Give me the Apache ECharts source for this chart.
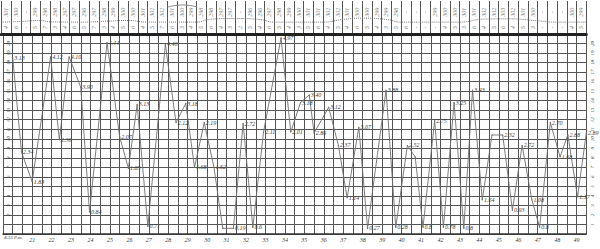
<!DOCTYPE html>
<html><head><meta charset="utf-8">
<script src="https://cdn.jsdelivr.net/npm/echarts@6/dist/echarts.min.js"></script>
<style>html,body{margin:0;padding:0;background:#fff}#c{width:600px;height:249px}</style>
</head><body><div id="c"></div>
<script>
// bottom tick labels at odd columns 3,5,...,59
const dayLabels = ['21','22','23','24','25','26','27','28','29','30','31','32','33','34','35','36','37','38','39','40','41','42','43','44','45','46','47','48','49'];
// left / right height labels (one per grid row)
const heightLabels = ['0','1','2','3','4','5','6','7','8','9','10','11','12','13','14','15','16','17','18','19','20','21'];
// tide curve: column position, height, and written value at each turning point
const tideX = [1.0, 1.9, 3.0, 4.9, 5.8, 6.8, 8.0, 8.9, 10.7, 12.0, 12.9, 13.8, 14.9, 16.7, 17.8, 18.8, 19.7, 20.7, 21.7, 22.6, 23.7, 24.7, 25.7, 26.8, 28.6, 29.6, 30.6, 31.5, 32.0, 33.5, 34.5, 35.4, 36.6, 37.5, 39.4, 40.4, 41.6, 42.4, 43.2, 44.4, 45.3, 46.4, 47.4, 48.3, 49.3, 50.3, 51.4, 52.4, 53.4, 54.4, 55.2, 56.3, 57.3, 58.1, 59.1, 60.0];
const tideY = [18.5, 8.6, 5.5, 18.6, 9.9, 18.6, 15.4, 2.3, 20.1, 10.2, 6.9, 13.6, 0.8, 19.9, 11.7, 13.7, 7.0, 11.7, 7.0, 0.6, 0.6, 11.6, 0.7, 10.7, 20.6, 10.7, 13.8, 14.6, 10.6, 13.3, 9.3, 3.8, 11.2, 0.6, 15.1, 0.7, 9.3, 8.1, 0.7, 11.9, 0.7, 13.8, 0.6, 15.1, 3.6, 10.4, 10.4, 2.5, 9.3, 3.6, 0.7, 11.7, 8.1, 10.4, 3.9, 10.6];
const tideLabels = ['3.13','2.34','1.83','4.12','2.36','4.10','3.90','0.84','4.44','2.07','1.85','3.13','0.71','4.46','2.12','3.18','1.68','2.19','1.62','','0.19','2.72','0.6','2.11','4.97','2.01','3.18','3.40','2.86','3.12','2.37','1.14','3.07','0.27','3.88','0.28','2.52','','0.8','2.75','0.78','3.25','0.8','3.43','1.64','','2.32','0.93','2.72','1.08','0.8','2.70','1.68','2.88','1.17','2.89'];
// upper band: two written rows per column and a dotted curve
const topRow1 = ['301','300','-','299','298','298','297','297','296','297','298','299','300','300','301','302','302','301','300','299','298','298','297','297','-','296','296','297','298','299','300','301','301','302','302','301','300','300','299','299','298','-','-','-','299','300','300','301','301','302','302','303','302','301','300','-','-','-','300','299'];
const topRow2 = ['4','6','-','5','7','3','4','6','5','7','3','4','5','6','4','5','7','6','3','4','5','6','4','3','2','5','4','6','5','4','3','5','6','4','5','4','6','5','4','3','5','6','-','-','-','4','5','3','6','4','5','6','4','5','3','-','-','-','4','5'];
const topCurveX = [0, 2, 4, 5, 8, 11, 13, 15, 20, 21.5, 24, 26.5, 28, 33, 35, 37, 39.5, 41, 47, 49.5, 52, 55, 57, 60];
const topCurveY = [3.6, 3.8, 4.1, 3.7, 3.6, 3.9, 4.1, 3.6, 3.6, 4.5, 4.7, 4.4, 3.6, 3.6, 4.4, 4.8, 4.4, 3.6, 3.6, 4.5, 4.6, 4.0, 3.6, 3.6];
const arcX = [17.1, 18.6, 20.1];
const arcY = [8.2, 8.8, 8.2];

const chart = echarts.init(document.getElementById('c'), null, {renderer: 'svg'});
const gridCol = '#555';
const ink = '#6e6e6e';
const txt = '#3a3a3a';
const fnt = 'Liberation Serif';
const option = {
  animation: false,
  backgroundColor: '#fff',
  textStyle: {fontFamily: fnt},
  grid: [
    {left: 1.3, right: 13.7, top: 34, bottom: 15},
    {left: 1.3, right: 13.7, top: 1, height: 33}
  ],
  xAxis: [
    {gridIndex: 0, type: 'value', min: 0, max: 60, interval: 1,
     axisLine: {show: true, lineStyle: {color: '#333', width: 1.5}},
     axisTick: {show: false},
     splitLine: {show: true, lineStyle: {color: gridCol, width: 1}},
     axisLabel: {fontSize: 6, color: txt, margin: 3, fontStyle: 'italic', fontFamily: fnt,
       formatter: v => (v % 2 === 1 && v >= 3 && v <= 59) ? dayLabels[(v - 3) / 2] : ''}},
    {gridIndex: 1, type: 'value', min: 0, max: 60, interval: 1, position: 'bottom',
     axisLine: {show: true, lineStyle: {color: '#222', width: 3}},
     axisTick: {show: false}, axisLabel: {show: false},
     splitLine: {show: true, lineStyle: {color: gridCol, width: 1}}}
  ],
  yAxis: [
    {gridIndex: 0, type: 'value', min: 0, max: 21, interval: 1,
     axisLine: {show: false}, axisTick: {show: false},
     splitLine: {show: true, lineStyle: {color: gridCol, width: 1}},
     axisLabel: {inside: true, rotate: 90, fontSize: 5, margin: 3, color: txt, fontStyle: 'italic',
       formatter: v => (v > 0 && v < 21) ? heightLabels[v] : ''}},
    {gridIndex: 0, type: 'value', position: 'right', min: 0, max: 21, interval: 1,
     axisLine: {show: false}, axisTick: {show: false}, splitLine: {show: false},
     axisLabel: {rotate: 90, fontSize: 5, margin: 4, color: txt, fontStyle: 'italic',
       formatter: v => (v > 0 && v < 21) ? heightLabels[v] : ''}},
    {gridIndex: 1, type: 'value', min: 0, max: 10, show: false}
  ],
  series: [
    {type: 'line', xAxisIndex: 0, yAxisIndex: 0,
     data: tideX.map((x, i) => [x, tideY[i]]),
     symbol: 'circle', symbolSize: 1.2, itemStyle: {color: ink},
     lineStyle: {color: ink, width: 0.9},
     label: {show: true, position: 'right', distance: 1, fontSize: 6, color: txt, fontStyle: 'italic',
       textBorderWidth: 0, formatter: p => tideLabels[p.dataIndex]}},
    {type: 'line', xAxisIndex: 1, yAxisIndex: 2, smooth: true, symbol: 'none',
     data: topCurveX.map((x, i) => [x, topCurveY[i]]),
     lineStyle: {color: '#777', width: 1, type: 'dotted'}},
    {type: 'line', xAxisIndex: 1, yAxisIndex: 2, smooth: true, symbol: 'none',
     data: arcX.map((x, i) => [x, arcY[i]]),
     lineStyle: {color: '#888', width: 1}},
    {type: 'scatter', xAxisIndex: 1, yAxisIndex: 2, symbolSize: 0,
     data: topRow1.map((t, i) => [i + 0.5, 6.6]),
     label: {show: true, position: 'inside', rotate: 90, fontSize: 6, color: '#555', fontStyle: 'italic',
       formatter: p => topRow1[p.dataIndex]}},
    {type: 'scatter', xAxisIndex: 1, yAxisIndex: 2, symbolSize: 0,
     data: topRow2.map((t, i) => [i + 0.5, 2.0]),
     label: {show: true, position: 'inside', rotate: 90, fontSize: 6, color: '#555', fontStyle: 'italic',
       formatter: p => topRow2[p.dataIndex]}}
  ],
  graphic: [
    {type: 'text', left: 4, top: 235, style: {text: '4.33 P.m.', fontSize: 5, fill: txt, fontStyle: 'italic', fontFamily: fnt}}
  ]
};
chart.setOption(option);
</script>
</body></html>
